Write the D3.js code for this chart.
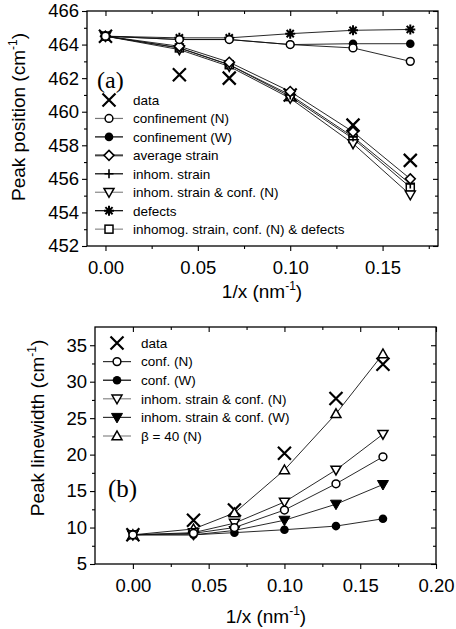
<!DOCTYPE html>
<html>
<head>
<meta charset="utf-8">
<script src="https://cdn.jsdelivr.net/npm/d3@7"></script>
<style>
  html, body { margin: 0; padding: 0; background: #fff; }
  svg { display: block; }
  text { font-family: "Liberation Sans", Arial, Helvetica, sans-serif; fill: #000; }
  text.panel-tag { font-family: "Liberation Serif", "Times New Roman", serif; }
</style>
</head>
<body>
<svg id="fig" width="456" height="629"></svg>
<script>
// ---- data: inverse size (nm^-1) ----
const invSize = [0, 0.04, 0.067, 0.10, 0.134, 0.165];

// panel (a): Raman peak position (cm^-1)
const posData        = [464.5, 462.2, 462.0, 461.0, 459.2, 457.1];
const posConfN       = [464.5, 464.3, 464.3, 464.0, 463.8, 463.0];
const posConfW       = [464.5, 464.3, 464.3, 464.0, 464.05, 464.05];
const posAvgStrain   = [464.5, 463.9, 462.95, 461.2, 458.8, 456.0];
const posInhomStrain = [464.5, 463.8, 462.8, 461.0, 458.5, 455.7];
const posInhomConfN  = [464.5, 463.7, 462.7, 460.8, 458.1, 455.05];
const posDefects     = [464.5, 464.4, 464.4, 464.65, 464.85, 464.9];
const posInhomConfDef= [464.5, 463.8, 462.8, 460.9, 458.4, 455.5];

// panel (b): Raman peak linewidth (cm^-1)
const lwData         = [9, 11.0, 12.4, 20.2, 27.7, 32.4];
const lwConfN        = [9, 9.2, 10.0, 12.4, 16.0, 19.7];
const lwConfW        = [9, 9.0, 9.3, 9.7, 10.2, 11.2];
const lwInhomConfN   = [9, 9.3, 10.6, 13.5, 17.9, 22.8];
const lwInhomConfW   = [9, 9.0, 9.6, 11.0, 13.2, 15.9];
const lwBeta40       = [9, 9.8, 12.0, 17.9, 25.6, 33.8];

// series labels
const labelsA = ["data", "confinement (N)", "confinement (W)", "average strain",
  "inhom. strain", "inhom. strain & conf. (N)", "defects",
  "inhomog. strain, conf. (N) & defects"];
const labelsB = ["data", "conf. (N)", "conf. (W)", "inhom. strain & conf. (N)",
  "inhom. strain & conf. (W)", "\u03B2 = 40 (N)"];

// tick values
const ticksAx = [0, 0.05, 0.10, 0.15];
const ticksAy = [452, 454, 456, 458, 460, 462, 464, 466];
const ticksBx = [0, 0.05, 0.10, 0.15, 0.20];
const ticksBy = [5, 10, 15, 20, 25, 30, 35];

const svg = d3.select("#fig");

// ---- marker shapes ----
function marker(g, type, cx, cy) {
  const s = g.append("g").attr("transform", `translate(${cx},${cy})`);
  const k = "#000";
  switch (type) {
    case "x":
      s.append("path").attr("d", "M-6.5,-6.5L6.5,6.5M-6.5,6.5L6.5,-6.5")
        .attr("stroke", k).attr("stroke-width", 2.2).attr("fill", "none");
      break;
    case "circleOpen":
      s.append("circle").attr("r", 3.9).attr("fill", "#fff").attr("stroke", k).attr("stroke-width", 1.5);
      break;
    case "circleFill":
      s.append("circle").attr("r", 4.3).attr("fill", k);
      break;
    case "diamond":
      s.append("path").attr("d", "M0,-5L5,0L0,5L-5,0Z").attr("fill", "#fff").attr("stroke", k).attr("stroke-width", 1.5);
      break;
    case "plus":
      s.append("path").attr("d", "M-4.5,0L4.5,0M0,-4.5L0,4.5").attr("stroke", k).attr("stroke-width", 1.6);
      break;
    case "triDownOpen":
      s.append("path").attr("d", "M-5,-3.8L5,-3.8L0,5Z").attr("fill", "#fff").attr("stroke", k).attr("stroke-width", 1.5);
      break;
    case "triDownFill":
      s.append("path").attr("d", "M-5.5,-4L5.5,-4L0,5.5Z").attr("fill", k).attr("stroke", k).attr("stroke-width", 1);
      break;
    case "triUpOpen":
      s.append("path").attr("d", "M-5,3.8L5,3.8L0,-5Z").attr("fill", "#fff").attr("stroke", k).attr("stroke-width", 1.5);
      break;
    case "star":
      s.append("path").attr("d", "M-5,0L5,0M0,-5L0,5M-3.6,-3.6L3.6,3.6M-3.6,3.6L3.6,-3.6")
        .attr("stroke", k).attr("stroke-width", 2);
      break;
    case "squareOpen":
      s.append("rect").attr("x", -4).attr("y", -4).attr("width", 8).attr("height", 8)
        .attr("fill", "#fff").attr("stroke", k).attr("stroke-width", 1.5);
      break;
  }
}

// ---- generic panel ----
function panel(cfg) {
  const { x, y, xTicks, yTicks, xMinor, yMinor, yFmt } = cfg;
  const g = svg.append("g");
  const [x0, x1] = x.range();
  const [y0, y1] = y.range(); // y0 bottom, y1 top

  // frame
  g.append("rect").attr("x", x0).attr("y", y1).attr("width", x1 - x0).attr("height", y0 - y1)
    .attr("fill", "none").attr("stroke", "#000").attr("stroke-width", 1.3);

  const styleAxis = a => {
    a.select(".domain").remove();
    a.selectAll("line").attr("stroke", "#000").attr("stroke-width", 1.1);
  };

  // bottom / left: outward ticks with labels
  const bx = g.append("g").attr("transform", `translate(0,${y0})`)
    .call(d3.axisBottom(x).tickValues(xTicks).tickSize(5).tickPadding(5).tickFormat(d3.format(".2f")));
  styleAxis(bx);
  bx.selectAll("text").attr("font-size", 18.5).attr("fill", "#000").attr("dy", "0.95em");
  g.append("g").attr("transform", `translate(0,${y0})`)
    .call(d3.axisBottom(x).tickValues(xMinor).tickSize(3).tickFormat("")).call(styleAxis);

  const ly = g.append("g").attr("transform", `translate(${x0},0)`)
    .call(d3.axisLeft(y).tickValues(yTicks).tickSize(5).tickPadding(3).tickFormat(yFmt));
  styleAxis(ly);
  ly.selectAll("text").attr("font-size", 18.5).attr("fill", "#000");
  g.append("g").attr("transform", `translate(${x0},0)`)
    .call(d3.axisLeft(y).tickValues(yMinor).tickSize(3).tickFormat("")).call(styleAxis);

  // top / right: inward mirror ticks
  g.append("g").attr("transform", `translate(0,${y1})`)
    .call(d3.axisTop(x).tickValues(xTicks).tickSize(-5).tickFormat("")).call(styleAxis);
  g.append("g").attr("transform", `translate(0,${y1})`)
    .call(d3.axisTop(x).tickValues(xMinor).tickSize(-3).tickFormat("")).call(styleAxis);
  g.append("g").attr("transform", `translate(${x1},0)`)
    .call(d3.axisRight(y).tickValues(yTicks).tickSize(-5).tickFormat("")).call(styleAxis);
  g.append("g").attr("transform", `translate(${x1},0)`)
    .call(d3.axisRight(y).tickValues(yMinor).tickSize(-3).tickFormat("")).call(styleAxis);

  return g;
}

function drawSeries(g, x, y, series) {
  const line = d3.line().x((d, i) => x(invSize[i])).y(d => y(d));
  series.forEach(s => {
    if (s.line) {
      g.append("path").attr("d", line(s.values)).attr("fill", "none")
        .attr("stroke", "#111").attr("stroke-width", 0.9);
    }
  });
  series.slice().reverse().forEach(s => {
    s.values.forEach((v, i) => marker(g, s.marker, x(invSize[i]), y(v)));
  });
}

function drawLegend(g, items, lx, ly0, step) {
  items.forEach((s, i) => {
    const cy = ly0 + i * step;
    if (s.line) {
      g.append("line").attr("x1", lx - 14).attr("x2", lx + 14).attr("y1", cy).attr("y2", cy)
        .attr("stroke", s.legendColor).attr("stroke-width", s.legendWidth || 1.2);
    }
    marker(g, s.marker, lx, cy);
    g.append("text").attr("x", lx + 24).attr("y", cy).attr("dy", "0.36em")
      .attr("font-size", 13.5).text(s.label);
  });
}

function yTitle(text, cx, cy) {
  const t = svg.append("text").attr("transform", `translate(${cx},${cy}) rotate(-90)`)
    .attr("text-anchor", "middle").attr("font-size", 19);
  t.append("tspan").text(text + " (cm");
  t.append("tspan").attr("dy", -8).attr("font-size", 12).text("-1");
  t.append("tspan").attr("dy", 8).text(")");
}
function xTitle(cx, by) {
  const t = svg.append("text").attr("x", cx).attr("y", by)
    .attr("text-anchor", "middle").attr("font-size", 19);
  t.append("tspan").text("1/x (nm");
  t.append("tspan").attr("dy", -8).attr("font-size", 12).text("-1");
  t.append("tspan").attr("dy", 8).text(")");
}

// ===== panel (a) =====
const xA = d3.scaleLinear().domain([-0.01, 0.18]).range([87, 438]);
const yA = d3.scaleLinear().domain([452, 466]).range([246, 11]);
const gA = panel({
  x: xA, y: yA, xTicks: ticksAx, yTicks: ticksAy,
  xMinor: [0.025, 0.075, 0.125, 0.175],
  yMinor: [453, 455, 457, 459, 461, 463, 465],
  yFmt: d3.format("d")
});
const seriesA = [
  { values: posData,         marker: "x",           line: false },
  { values: posConfN,        marker: "circleOpen",  line: true, legendColor: "#777" },
  { values: posConfW,        marker: "circleFill",  line: true, legendColor: "#000" },
  { values: posAvgStrain,    marker: "diamond",     line: true, legendColor: "#444", legendWidth: 2 },
  { values: posInhomStrain,  marker: "plus",        line: true, legendColor: "#000" },
  { values: posInhomConfN,   marker: "triDownOpen", line: true, legendColor: "#888" },
  { values: posDefects,      marker: "star",        line: true, legendColor: "#000" },
  { values: posInhomConfDef, marker: "squareOpen",  line: true, legendColor: "#888" }
];
seriesA.forEach((s, i) => s.label = labelsA[i]);
drawSeries(gA, xA, yA, seriesA.slice(1).concat([seriesA[0]]));
drawLegend(gA, seriesA, 109, 100, 18.45);
gA.append("text").attr("class", "panel-tag").attr("x", 97).attr("y", 88)
  .attr("font-size", 24).text("(a)");
yTitle("Peak position", 25, 117);
xTitle(262, 298);

// ===== panel (b) =====
const xB = d3.scaleLinear().domain([-0.025, 0.20]).range([95, 436]);
const yB = d3.scaleLinear().domain([5, 37.5]).range([564, 327]);
const gB = panel({
  x: xB, y: yB, xTicks: ticksBx, yTicks: ticksBy,
  xMinor: [0.025, 0.075, 0.125, 0.175],
  yMinor: [7.5, 12.5, 17.5, 22.5, 27.5, 32.5],
  yFmt: d3.format("d")
});
const seriesB = [
  { values: lwData,       marker: "x",           line: false },
  { values: lwConfN,      marker: "circleOpen",  line: true, legendColor: "#333" },
  { values: lwConfW,      marker: "circleFill",  line: true, legendColor: "#000" },
  { values: lwInhomConfN, marker: "triDownOpen", line: true, legendColor: "#888" },
  { values: lwInhomConfW, marker: "triDownFill", line: true, legendColor: "#333" },
  { values: lwBeta40,     marker: "triUpOpen",   line: true, legendColor: "#888" }
];
seriesB.forEach((s, i) => s.label = labelsB[i]);
drawSeries(gB, xB, yB, seriesB.slice(1).concat([seriesB[0]]));
drawLegend(gB, seriesB, 117, 343, 18.6);
gB.append("text").attr("class", "panel-tag").attr("x", 108).attr("y", 497)
  .attr("font-size", 25).text("(b)");
yTitle("Peak linewidth", 44, 428);
xTitle(266, 623);
</script>
</body>
</html>
